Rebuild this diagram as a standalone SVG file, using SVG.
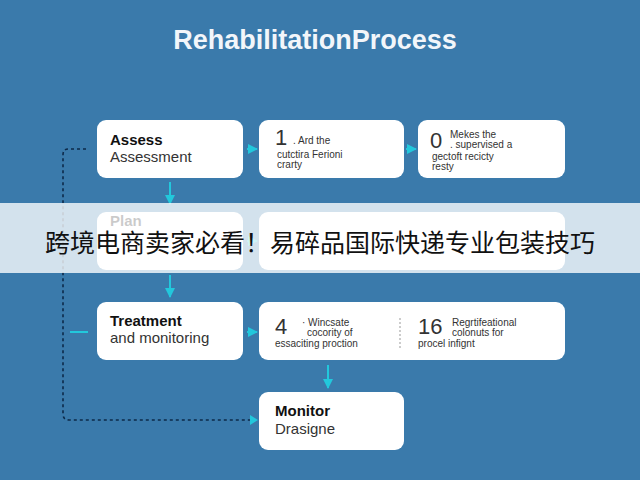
<svg xmlns="http://www.w3.org/2000/svg" width="640" height="480" viewBox="0 0 640 480">
<defs>
<style>
.box{fill:#fff;}
.b{font-family:"Liberation Sans",Arial,sans-serif;font-weight:bold;font-size:15px;fill:#111;}
.r{font-family:"Liberation Sans",Arial,sans-serif;font-size:15px;fill:#333;}
.s{font-family:"Liberation Sans",Arial,sans-serif;font-size:10px;fill:#333;}
.n{font-family:"Liberation Sans",Arial,sans-serif;font-size:22px;fill:#333;}
.c{stroke:#22c8dc;stroke-width:2;fill:none;}
.d{stroke:#0d2a4a;stroke-width:1.6;fill:none;stroke-dasharray:3 3;}
</style>
<marker id="a" viewBox="0 0 10 10" refX="9" refY="5" markerWidth="5" markerHeight="5" orient="auto"><path d="M0,0L10,5L0,10z" fill="#22c8dc"/></marker>
</defs>
<rect width="640" height="480" fill="#3a7aab"/>
<text x="315" y="49" text-anchor="middle" font-family="Liberation Sans,Arial,sans-serif" font-weight="bold" font-size="27" fill="#f2f6fa">RehabilitationProcess</text>
<g id="connectors">
<path class="c" d="M170,182V204" marker-end="url(#a)"/>
<path class="c" d="M170,275V297" marker-end="url(#a)"/>
<path class="c" d="M247,149H257" marker-end="url(#a)"/>
<path class="c" d="M406,149H416" marker-end="url(#a)"/>
<path class="c" d="M247,241H257" marker-end="url(#a)"/>
<path class="c" d="M247,332H257" marker-end="url(#a)"/>
<path class="c" d="M328,365V388" marker-end="url(#a)"/>
<path class="c" d="M70,332H88"/>
<path class="d" d="M86,149H68Q63,149 63,155V414Q63,420 69,420H250"/>
<path d="M250,415L258,420L250,425z" fill="#22c8dc"/>
</g>
<g id="assess"><rect class="box" x="97" y="120" width="146" height="58" rx="9"/><text class="b" x="110" y="145">Assess</text><text class="r" x="110" y="162">Assessment</text></g>
<g id="step1"><rect class="box" x="259" y="120" width="145" height="58" rx="9"/><text class="n" x="275" y="145">1</text><text class="s" x="293" y="144">. Ard the</text><text class="s" x="277" y="158">cutctira Ferioni</text><text class="s" x="277" y="168">crarty</text></g>
<g id="step0"><rect class="box" x="418" y="120" width="147" height="58" rx="9"/><text class="n" x="430" y="148">0</text><text class="s" x="450" y="138">Mekes the</text><text class="s" x="450" y="148">. supervised a</text><text class="s" x="432" y="160">gectoft recicty</text><text class="s" x="432" y="170">resty</text></g>
<g id="plan"><rect class="box" x="97" y="212" width="146" height="58" rx="9"/><text class="b" x="110" y="226">Plan</text></g>
<g id="step2"><rect class="box" x="259" y="212" width="306" height="58" rx="9"/></g>
<g id="treatment"><rect class="box" x="97" y="302" width="146" height="58" rx="9"/><text class="b" x="110" y="326">Treatment</text><text class="r" x="110" y="343">and monitoring</text></g>
<g id="step4"><rect class="box" x="259" y="302" width="306" height="58" rx="9"/><text class="n" x="275" y="334">4</text><text class="s" x="302" y="326">· Wincsate</text><text class="s" x="307" y="336">cocority of</text><text class="s" x="275" y="347">essaciting proction</text><line x1="400" y1="318" x2="400" y2="348" stroke="#999" stroke-dasharray="2 2"/><text class="n" x="418" y="334">16</text><text class="s" x="452" y="326">Regrtifeational</text><text class="s" x="452" y="336">colonuts for</text><text class="s" x="418" y="347">procel infignt</text></g>
<g id="monitor"><rect class="box" x="259" y="392" width="145" height="58" rx="9"/><text class="b" x="275" y="416">Monitor</text><text class="r" x="275" y="434">Drasigne</text></g>
<rect x="0" y="203" width="640" height="70" fill="#fff" opacity="0.78"/>
<text x="320" y="252" text-anchor="middle" font-family="Noto Sans CJK SC,sans-serif" font-size="25" fill="#111">跨境电商卖家必看！易碎品国际快递专业包装技巧</text>
</svg>
